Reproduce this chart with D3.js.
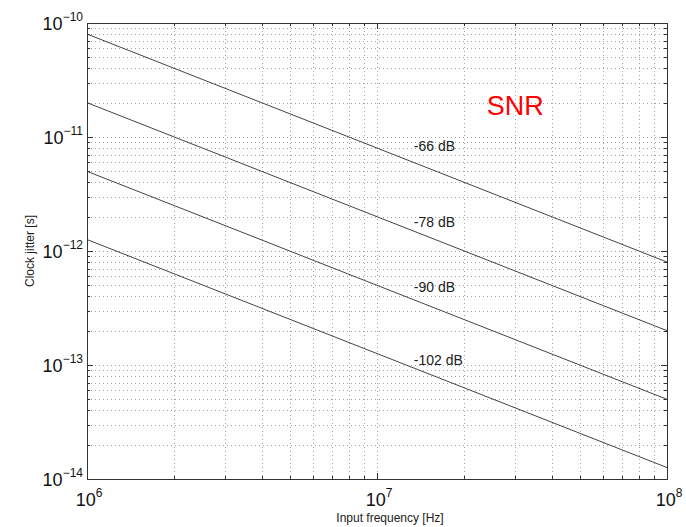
<!DOCTYPE html>
<html>
<head>
<meta charset="utf-8">
<script src="https://cdn.jsdelivr.net/npm/d3@7"></script>
<style>
body { margin: 0; background: #fff; }
text { font-family: "Liberation Sans", Arial, sans-serif; }
</style>
</head>
<body>
<div id="chart"></div>
<script>
// values
var freqs = [1e6, 1e8];
var snr_db = [-66, -78, -90, -102];
var jitter = [
    [8.0e-11, 8.0e-13],
    [2.0e-11, 2.0e-13],
    [5.0e-12, 5.0e-14],
    [1.26e-12, 1.26e-14]
];
var label_jitter = [7.5e-12, 1.62e-12, 4.4e-13, 1.0e-13];
var label_freq = 1.34e7;
var x_ticks = [1e6, 1e7, 1e8];
var y_ticks = [1e-14, 1e-13, 1e-12, 1e-11, 1e-10];

var W = 686, H = 527;
var margin = {top: 23, left: 87, right: 19, bot: 48};
var pw = W - margin.left - margin.right;
var ph = H - margin.top - margin.bot;

var x = d3.scaleLog().domain([1e6, 1e8]).range([0, pw]);
var y = d3.scaleLog().domain([1e-14, 1e-10]).range([ph, 0]);

var svg = d3.select("#chart").append("svg")
    .attr("width", W)
    .attr("height", H);

var g = svg.append("g")
    .attr("transform", "translate(" + margin.left + "," + margin.top + ")");

// grid (major + minor, all dotted)
var xgrid = x.ticks().filter(function(d) { return d > 1e6 && d < 1e8; });
var ygrid = y.ticks().filter(function(d) { return d > 1e-14 && d < 1e-10; });

var grid = g.append("g").attr("class", "grid")
    .attr("stroke", "#a0a0a0")
    .attr("stroke-width", 1)
    .attr("stroke-dasharray", "1,3");

grid.selectAll("line.vx").data(xgrid).enter().append("line")
    .attr("x1", function(d) { return Math.round(x(d)) + .5; })
    .attr("x2", function(d) { return Math.round(x(d)) + .5; })
    .attr("y1", 0).attr("y2", ph);

grid.selectAll("line.hy").data(ygrid).enter().append("line")
    .attr("y1", function(d) { return Math.round(y(d)) + .5; })
    .attr("y2", function(d) { return Math.round(y(d)) + .5; })
    .attr("x1", 0).attr("x2", pw);

// ticks inside the box, on all four sides
function isMajor(d) {
    var l = Math.log10(d);
    return Math.abs(l - Math.round(l)) < 1e-9;
}
var tk = g.append("g").attr("stroke", "#333").attr("stroke-width", 1);
x.ticks().forEach(function(d) {
    var len = isMajor(d) ? 6 : 3;
    var xx = Math.round(x(d)) + .5;
    tk.append("line").attr("x1", xx).attr("x2", xx).attr("y1", ph).attr("y2", ph - len);
    tk.append("line").attr("x1", xx).attr("x2", xx).attr("y1", 0).attr("y2", len);
});
y.ticks().forEach(function(d) {
    var len = isMajor(d) ? 6 : 3;
    var yy = Math.round(y(d)) + .5;
    tk.append("line").attr("y1", yy).attr("y2", yy).attr("x1", 0).attr("x2", len);
    tk.append("line").attr("y1", yy).attr("y2", yy).attr("x1", pw).attr("x2", pw - len);
});

// box
g.append("rect")
    .attr("x", .5).attr("y", .5)
    .attr("width", pw).attr("height", ph)
    .attr("fill", "none")
    .attr("stroke", "#333")
    .attr("stroke-width", 1);

// curves
var line = d3.line()
    .x(function(d, i) { return x(freqs[i]); })
    .y(function(d) { return y(d); });

g.selectAll("path.snr").data(jitter).enter().append("path")
    .attr("class", "snr")
    .attr("d", line)
    .attr("fill", "none")
    .attr("stroke", "#444")
    .attr("stroke-width", 1);

// curve labels
g.selectAll("text.lab").data(snr_db).enter().append("text")
    .attr("class", "lab")
    .attr("x", x(label_freq))
    .attr("y", function(d, i) { return y(label_jitter[i]); })
    .attr("font-size", 14)
    .attr("fill", "#222")
    .text(function(d) { return d + " dB"; });

g.append("text")
    .attr("x", x(2.39e7))
    .attr("y", y(1.56e-11))
    .attr("font-size", 27)
    .attr("fill", "#ff0000")
    .text("SNR");

// tick labels as 10^n
function powLabel(sel, d) {
    var n = Math.round(Math.log10(d));
    sel.append("tspan").attr("font-size", 18).text("10");
    sel.append("tspan").attr("font-size", 12).attr("dy", -9).text(String(n).replace("-", "\u2212"));
}

g.selectAll("text.xt").data(x_ticks).enter().append("text")
    .attr("class", "xt")
    .attr("x", function(d) { return x(d) + 2; })
    .attr("y", ph + 27)
    .attr("text-anchor", "middle")
    .attr("fill", "#111")
    .each(function(d) { powLabel(d3.select(this), d); });

g.selectAll("text.yt").data(y_ticks).enter().append("text")
    .attr("class", "yt")
    .attr("x", -4)
    .attr("y", function(d) { return y(d) + 7; })
    .attr("text-anchor", "end")
    .attr("fill", "#111")
    .each(function(d) { powLabel(d3.select(this), d); });

// axis titles
svg.append("text")
    .attr("x", 390)
    .attr("y", 522)
    .attr("text-anchor", "middle")
    .attr("font-size", 12)
    .attr("fill", "#222")
    .text("Input frequency [Hz]");

svg.append("text")
    .attr("transform", "translate(34," + (margin.top + ph / 2) + ") rotate(-90)")
    .attr("text-anchor", "middle")
    .attr("font-size", 12)
    .attr("fill", "#222")
    .text("Clock jitter [s]");
</script>
</body>
</html>
